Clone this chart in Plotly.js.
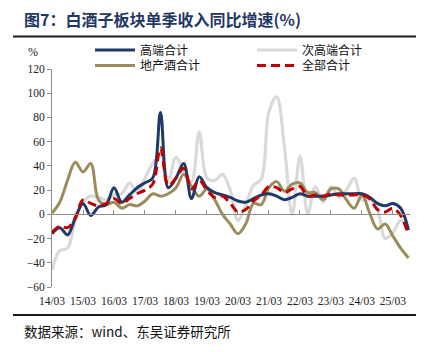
<!DOCTYPE html>
<html>
<head>
<meta charset="utf-8">
<script src="https://cdn.plot.ly/plotly-3.0.1.min.js"></script>
<style>
html,body{margin:0;padding:0;background:#fff;}
#chart{width:429px;height:352px;}
</style>
</head>
<body>
<div id="chart"></div>
<script>
// Quarters (end-of-quarter labels)
const quarters = [
  "14/03","14/06","14/09","14/12","15/03","15/06","15/09","15/12",
  "16/03","16/06","16/09","16/12","17/03","17/06","17/09","17/12",
  "18/03","18/06","18/09","18/12","19/03","19/06","19/09","19/12",
  "20/03","20/06","20/09","20/12","21/03","21/06","21/09","21/12",
  "22/03","22/06","22/09","22/12","23/03","23/06","23/09","23/12",
  "24/03","24/06","24/09","24/12","25/03","25/06","25/09"
];
const tickLabels = ["14/03","15/03","16/03","17/03","18/03","19/03","20/03","21/03","22/03","23/03","24/03","25/03"];

// 高端合计
const highEnd = [-16,-11,-17,-3,9,-1,6,8,22,10,16,22,26,30,84,22,30,42,13,31,22,18,16,14,11,10,13,16,17,15,12,14,17,15,15,15,16,17,17,17,17,14,9,7,9,5,-13];
// 次高端合计
const subHigh = [-46,-30,-28,-5,10,15,14,12,16,17,26,18,30,42,50,28,47,36,27,68,30,28,33,20,-5,8,24,29,85,97,55,0,48,1,23,10,23,14,20,30,12,12,4,-20,-15,-5,-11];
// 地产酒合计
const regional = [1,10,28,43,35,42,12,8,10,5,8,7,11,17,15,17,22,33,23,15,21,12,0,-8,-16,-8,9,8,22,27,19,25,26,18,18,12,21,21,12,5,16,1,-12,-8,-18,-28,-36];
// 全部合计
const total = [-15,-10,-11,-3,12,9,7,9,13,9,13,17,20,25,55,24,30,38,21,28,20,14,15,9,2,4,11,16,23,22,18,21,23,15,16,15,17,16,16,16,16,13,4,2,5,-1,-17];

const names = ["高端合计","次高端合计","地产酒合计","全部合计"];

const cjk = '"Noto Sans CJK SC", "Noto Sans", sans-serif';
const serif = '"Liberation Serif", "DejaVu Serif", serif';

const traces = [
  {x: quarters, y: subHigh, name: names[1], type: 'scatter', mode: 'lines',
   line: {color: '#d9d9d9', width: 3.2, shape: 'spline', smoothing: 1}, legend: 'legend2'},
  {x: quarters, y: regional, name: names[2], type: 'scatter', mode: 'lines',
   line: {color: '#9b8d5b', width: 3, shape: 'spline', smoothing: 1}, legend: 'legend3'},
  {x: quarters, y: highEnd, name: names[0], type: 'scatter', mode: 'lines',
   line: {color: '#1f3a68', width: 3, shape: 'spline', smoothing: 1}, legend: 'legend'},
  {x: quarters, y: total, name: names[3], type: 'scatter', mode: 'lines',
   line: {color: '#c00000', width: 3, dash: '9px,5px', shape: 'spline', smoothing: 1}, legend: 'legend4'},
  {x: quarters, y: quarters.map(() => null), xaxis: 'x2', yaxis: 'y', type: 'scatter', mode: 'lines',
   showlegend: false, hoverinfo: 'skip'}
];

const L = 52, T = 69, W = 358, H = 218;
const px = v => (v - L) / W;
const py = v => (T + H - v) / H;

const legendBox = (xPix, yPix) => ({
  x: px(xPix), xanchor: 'left', y: py(yPix), yanchor: 'top',
  orientation: 'v', bgcolor: 'rgba(0,0,0,0)', borderwidth: 0,
  font: {family: cjk, size: 12, color: '#111'},
  itemwidth: 40, tracegroupgap: 0
});

const layout = {
  width: 429, height: 352,
  margin: {l: L, r: 429 - L - W, t: T, b: 352 - T - H},
  paper_bgcolor: '#ffffff', plot_bgcolor: '#ffffff',
  showlegend: true,
  title: {
    text: '<b>图7：白酒子板块单季收入同比增速(%)</b>',
    x: 24 / 429, xanchor: 'left', xref: 'container',
    y: 1 - 20 / 352, yanchor: 'middle', yref: 'container',
    font: {family: cjk, size: 16, color: '#1f3864'}
  },
  xaxis: {
    type: 'category', categoryorder: 'array', categoryarray: quarters,
    range: [0, 46.2], showgrid: false, zeroline: false, showline: false,
    tickmode: 'array', tickvals: tickLabels, ticktext: tickLabels,
    ticks: 'outside', ticklen: 3, tickcolor: 'rgba(0,0,0,0)',
    tickangle: 0,
    tickfont: {family: serif, size: 11.5, color: '#222'}
  },
  xaxis2: {
    type: 'category', categoryorder: 'array', categoryarray: quarters,
    overlaying: 'x', anchor: 'free', position: 1 / 3, side: 'bottom',
    range: [0, 46.2], showgrid: false, zeroline: false,
    showline: true, linecolor: '#8c8c8c', linewidth: 1,
    tickmode: 'array', tickvals: tickLabels,
    ticks: 'inside', ticklen: 4, tickcolor: '#8c8c8c', tickwidth: 1,
    showticklabels: false
  },
  yaxis: {
    range: [-60, 120], dtick: 20, tick0: 0,
    showgrid: false, zeroline: false,
    showline: true, linecolor: '#8c8c8c', linewidth: 1,
    ticks: 'outside', ticklen: 4, tickcolor: '#8c8c8c',
    tickfont: {family: serif, size: 11.5, color: '#222'}
  },
  legend: legendBox(90, 35.5),
  legend2: legendBox(252, 35.5),
  legend3: legendBox(90, 51),
  legend4: legendBox(252, 51),
  annotations: [
    {text: '%', xref: 'paper', yref: 'paper', x: px(33), y: py(52), xanchor: 'center', yanchor: 'middle',
     showarrow: false, font: {family: serif, size: 12, color: '#222'}},
    {text: '数据来源：wind、东吴证券研究所', xref: 'paper', yref: 'paper', x: px(22), y: py(331),
     xanchor: 'left', yanchor: 'middle', showarrow: false,
     font: {family: cjk, size: 13.5, color: '#111'}}
  ],
  shapes: [
    {type: 'line', xref: 'paper', yref: 'paper', x0: px(13), x1: px(416), y0: py(36.5), y1: py(36.5),
     line: {color: '#1a1a1a', width: 2}},
    {type: 'line', xref: 'paper', yref: 'paper', x0: px(13), x1: px(416), y0: py(315), y1: py(315),
     line: {color: '#1a1a1a', width: 2}}
  ]
};

Plotly.newPlot('chart', traces, layout, {staticPlot: true, displayModeBar: false});
</script>
</body>
</html>
